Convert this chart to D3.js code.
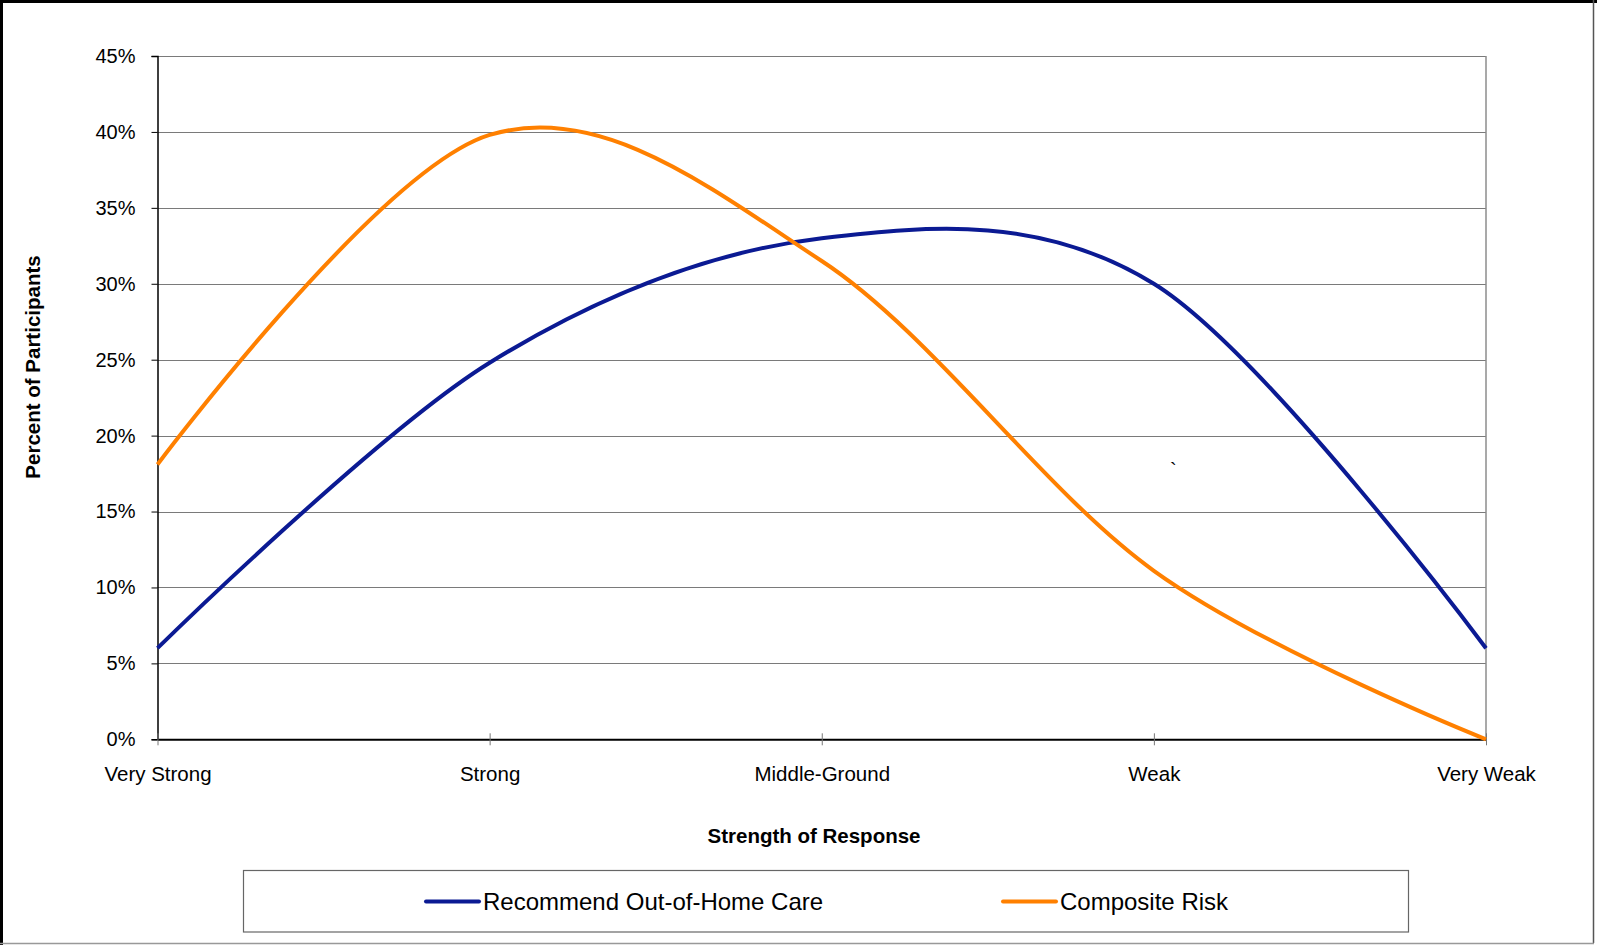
<!DOCTYPE html>
<html>
<head>
    <title>Strength of Response</title>
    <script src="https://cdn.jsdelivr.net/npm/d3@7/dist/d3.min.js"></script>
    <style>
        body { margin: 0; background: #fff; }
        text { font-family: "Liberation Sans", Arial, sans-serif; fill: #000; }
    </style>
</head>
<body>
    <svg width="1597" height="945" id="mainsvg"></svg>
    <script>
        // data
        const categories = ['Very Strong', 'Strong', 'Middle-Ground', 'Weak', 'Very Weak'];
        const recommendCare = [0.06, 0.248, 0.33, 0.30, 0.06];
        const compositeRisk = [0.181, 0.398, 0.315, 0.111, 0.0];
        const yTicks = [0, 0.05, 0.10, 0.15, 0.20, 0.25, 0.30, 0.35, 0.40, 0.45];
        const seriesNames = ['Recommend Out-of-Home Care', 'Composite Risk'];
        const seriesColors = ['#0b1a93', '#ff8000'];

        const svg = d3.select('svg');
        const width = +svg.attr('width');
        const height = +svg.attr('height');

        // outer frame
        svg.append('rect').attr('x', 0).attr('y', 0).attr('width', width).attr('height', height).attr('fill', '#fff');
        svg.append('line').attr('x1', 0).attr('x2', width).attr('y1', 1.5).attr('y2', 1.5).attr('stroke', '#000').attr('stroke-width', 3);
        svg.append('line').attr('x1', 1.5).attr('x2', 1.5).attr('y1', 0).attr('y2', height).attr('stroke', '#000').attr('stroke-width', 3);
        svg.append('line').attr('x1', 1593.5).attr('x2', 1593.5).attr('y1', 0).attr('y2', 943).attr('stroke', '#555').attr('stroke-width', 1.5);
        svg.append('line').attr('x1', 0).attr('x2', 1594).attr('y1', 943.5).attr('y2', 943.5).attr('stroke', '#999').attr('stroke-width', 1.5);

        const plotL = 157.5, plotR = 1486, plotT = 56, plotB = 739.3;
        const x = d3.scalePoint().domain(categories).range([plotL, plotR]);
        const y = d3.scaleLinear().domain([0, 0.45]).range([plotB, plotT]);

        // gridlines
        svg.append('g').selectAll('line').data(yTicks.slice(1)).join('line')
            .attr('x1', plotL).attr('x2', plotR)
            .attr('y1', d => Math.round(y(d)) + 0.5).attr('y2', d => Math.round(y(d)) + 0.5)
            .attr('stroke', '#7a7a7a').attr('stroke-width', 1.2);
        // plot border right
        svg.append('line').attr('x1', plotR).attr('x2', plotR).attr('y1', plotT).attr('y2', plotB)
            .attr('stroke', '#8c8c8c').attr('stroke-width', 1.5);

        // y axis
        const yAxis = svg.append('g').attr('transform', `translate(${plotL},0)`)
            .call(d3.axisLeft(y).tickValues(yTicks).tickFormat(d3.format('.0%')).tickSize(6).tickPadding(16));
        yAxis.select('.domain').attr('stroke', '#000').attr('stroke-width', 1.5);
        yAxis.selectAll('.tick line').attr('stroke', '#000');
        yAxis.selectAll('.tick text').attr('font-size', 20).attr('font-family', '"Liberation Sans", Arial, sans-serif').attr('fill', '#000');

        // x axis
        const xAxis = svg.append('g').attr('transform', `translate(0,${plotB})`)
            .call(d3.axisBottom(x).tickSizeInner(6).tickSizeOuter(0).tickPadding(21));
        xAxis.select('.domain').attr('stroke', '#000').attr('stroke-width', 2);
        xAxis.selectAll('.tick line').attr('stroke', '#777').attr('y1', -6).attr('y2', 6);
        xAxis.selectAll('.tick text').attr('font-size', 20.5).attr('font-family', '"Liberation Sans", Arial, sans-serif').attr('fill', '#000');

        // smoothed lines
        const line = d3.line()
            .x((d, i) => x(categories[i]))
            .y(d => y(d))
            .curve(d3.curveCardinal.tension(0));
        [recommendCare, compositeRisk].forEach((values, k) => {
            svg.append('path').datum(values)
                .attr('fill', 'none')
                .attr('stroke', seriesColors[k])
                .attr('stroke-width', 4)
                .attr('d', line);
        });

        // stray mark
        svg.append('text').attr('x', 1170).attr('y', 477).attr('font-size', 20).text('`');

        // axis titles
        svg.append('text').attr('x', 814).attr('y', 843).attr('text-anchor', 'middle')
            .attr('font-size', 20.5).attr('font-weight', 'bold').text('Strength of Response');
        svg.append('text').attr('transform', 'translate(40,367) rotate(-90)').attr('text-anchor', 'middle')
            .attr('font-size', 20.5).attr('font-weight', 'bold').text('Percent of Participants');

        // legend
        svg.append('rect').attr('x', 243.5).attr('y', 870.5).attr('width', 1165).attr('height', 61.5)
            .attr('fill', '#fff').attr('stroke', '#666').attr('stroke-width', 1.2);
        const legendX = [426, 1003];
        seriesNames.forEach((name, k) => {
            svg.append('line').attr('x1', legendX[k]).attr('x2', legendX[k] + 53)
                .attr('y1', 901.5).attr('y2', 901.5)
                .attr('stroke', seriesColors[k]).attr('stroke-width', 4).attr('stroke-linecap', 'round');
            svg.append('text').attr('x', legendX[k] + 57).attr('y', 910)
                .attr('font-size', 24).text(name);
        });
    </script>
</body>
</html>
